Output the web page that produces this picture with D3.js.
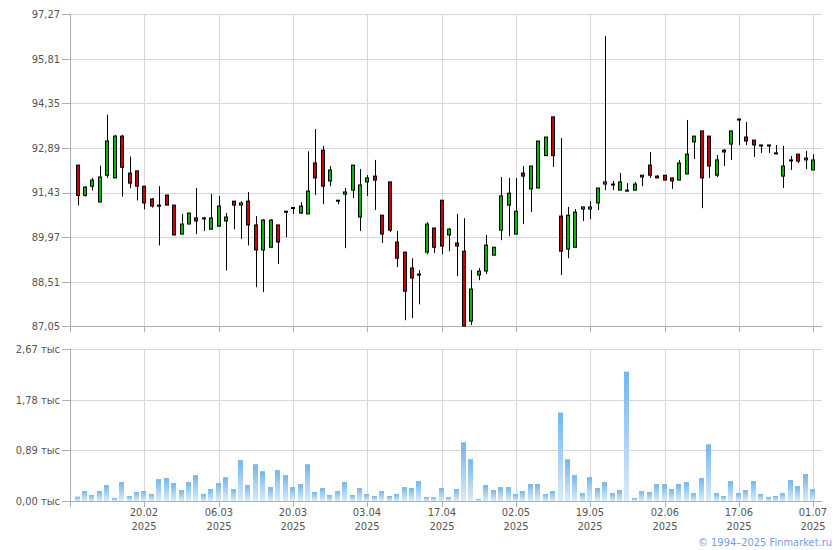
<!DOCTYPE html>
<html><head><meta charset="utf-8">
<script src="https://cdn.jsdelivr.net/npm/d3@7"></script>
<style>
body{margin:0;background:#fff}
svg{display:block}
text{font-family:"DejaVu Sans Condensed","Liberation Sans",Arial,sans-serif;font-size:11px}
</style>
</head><body>
<svg id="chart" width="840" height="550"></svg>
<script>
const dates=["07.02","10.02","11.02","12.02","13.02","14.02","17.02","18.02","19.02","20.02","21.02","24.02","25.02","26.02","27.02","28.02","03.03","04.03","05.03","06.03","07.03","10.03","11.03","12.03","13.03","14.03","17.03","18.03","19.03","20.03","21.03","24.03","25.03","26.03","27.03","28.03","31.03","01.04","02.04","03.04","04.04","07.04","08.04","09.04","10.04","11.04","14.04","15.04","16.04","17.04","18.04","21.04","22.04","23.04","24.04","25.04","28.04","29.04","30.04","02.05","05.05","06.05","07.05","08.05","12.05","13.05","14.05","15.05","16.05","19.05","20.05","21.05","22.05","23.05","26.05","27.05","28.05","29.05","30.05","02.06","03.06","04.06","05.06","06.06","09.06","10.06","11.06","13.06","16.06","17.06","18.06","19.06","20.06","23.06","24.06","25.06","26.06","27.06","30.06","01.07"];
const open =[92.33,91.34,91.64,91.12,92.00,91.91,93.28,92.07,92.14,91.64,91.22,91.02,91.35,91.02,90.07,90.40,90.60,90.59,90.23,90.33,90.50,91.15,91.02,91.15,90.37,89.55,89.64,90.37,90.82,90.94,90.76,90.73,92.40,92.82,91.81,91.18,91.38,91.51,90.63,91.78,91.97,90.69,91.78,89.81,89.48,88.96,88.76,89.48,90.27,91.18,90.04,89.78,89.51,87.22,88.73,88.86,89.38,90.20,91.02,90.07,92.07,91.55,91.58,92.64,93.91,90.66,89.58,89.64,90.89,90.89,91.09,91.71,91.71,91.51,91.51,91.51,91.94,92.33,91.97,92.00,91.91,91.84,92.04,93.09,93.45,93.28,92.00,92.82,93.02,93.84,93.25,93.15,92.99,92.99,92.73,91.97,92.50,92.69,92.50,92.17];
const high =[92.33,91.64,91.91,92.31,93.98,93.32,93.32,92.61,92.14,91.64,91.25,91.64,91.35,91.02,90.73,90.76,91.58,90.63,91.38,91.32,90.76,91.15,91.15,91.45,90.66,90.56,90.56,90.37,90.82,90.95,91.12,92.78,93.51,92.96,92.30,91.18,91.58,92.33,92.20,92.00,92.50,90.69,91.78,90.17,89.48,89.28,88.89,90.46,90.27,91.18,90.27,90.73,90.59,88.89,88.96,90.04,89.64,91.94,91.91,91.91,92.30,92.30,93.12,93.25,93.91,93.22,90.96,90.89,90.96,91.15,91.58,96.56,91.81,92.07,91.74,91.78,92.00,92.76,92.00,92.00,91.91,92.50,93.81,93.28,93.45,93.28,92.66,92.86,93.45,93.84,93.74,93.15,92.99,92.99,92.99,92.96,92.63,92.69,92.79,92.69];
const low  =[91.01,91.30,91.50,91.12,91.91,91.91,91.30,91.57,91.17,90.88,90.94,89.70,91.02,90.04,90.07,90.40,90.07,90.17,90.23,90.33,88.88,90.23,89.91,89.70,88.33,88.17,89.64,89.09,89.97,90.73,90.73,90.73,91.35,91.05,91.64,91.05,89.61,91.25,90.17,91.32,90.86,89.78,90.14,88.99,87.25,87.32,87.77,89.41,89.45,89.41,89.51,88.69,87.05,87.09,88.56,88.76,89.38,89.87,90.00,90.07,90.40,90.79,91.58,92.64,92.27,88.73,89.28,89.64,90.50,90.56,90.86,91.51,91.51,91.51,91.51,91.51,91.64,91.91,91.91,91.84,91.55,91.84,92.04,92.53,90.92,91.91,91.94,92.30,92.50,92.99,92.99,92.60,92.73,92.73,92.73,91.58,92.17,92.40,92.20,92.17];
const close=[91.34,91.61,91.84,91.94,93.12,93.28,92.26,91.74,91.64,91.09,90.99,91.02,91.02,90.04,90.40,90.76,90.50,90.60,90.60,90.99,90.63,91.02,91.09,90.37,89.55,90.53,90.53,89.81,90.81,90.94,90.99,91.48,91.91,91.64,92.17,91.18,91.45,92.33,91.68,91.91,91.84,90.07,90.20,89.28,88.20,88.63,88.76,90.40,89.64,89.68,90.23,89.68,87.06,88.27,88.86,89.71,89.64,91.32,91.41,90.82,91.97,92.30,93.12,93.25,92.64,89.51,90.69,90.79,90.96,90.96,91.58,91.78,91.71,91.78,91.51,91.71,92.00,92.00,91.91,91.84,91.81,92.40,92.69,93.28,91.91,92.30,92.50,92.76,93.45,93.84,93.12,92.99,92.99,92.99,92.73,92.30,92.50,92.46,92.56,92.50];
const volume=[76,175,105,175,280,53,333,88,158,175,123,385,403,315,193,333,455,123,210,315,420,210,718,280,648,525,245,543,455,245,298,648,158,228,105,175,333,105,228,123,88,175,88,123,245,228,350,70,70,228,70,210,1033,735,35,280,193,245,245,123,175,298,298,123,175,1558,735,455,140,420,228,333,140,193,2276,53,175,158,298,298,210,298,333,140,403,998,140,88,350,140,193,350,123,70,88,140,368,263,473,210];
const priceTicks=[87.05,88.51,89.97,91.43,92.89,94.35,95.81,97.27];
const volumeTicks=[0,890,1780,2670];
const dateTicks=["20.02","06.03","20.03","03.04","17.04","02.05","19.05","02.06","17.06","01.07"];
const tickYear="2025";
const copyright="\u00a9 1994\u20132025 Finmarket.ru";

const svg=d3.select("#chart");
const L=70, R=822;
const x=d3.scaleLinear().domain([0,dates.length-1]).range([77.6,813.2]);
const y=d3.scaleLinear().domain([87.05,97.27]).range([326.3,14.3]);
const yv=d3.scaleLinear().domain([0,2670]).range([501,349.3]);
const px=v=>Math.round(v)+0.5;
const fmt=v=>v.toFixed(2).replace(".",",");

const defs=svg.append("defs");
const g=defs.append("linearGradient").attr("id","vg").attr("x1",0).attr("y1",0).attr("x2",0).attr("y2",1);
g.append("stop").attr("offset","0%").attr("stop-color","#72b6ef");
g.append("stop").attr("offset","100%").attr("stop-color","#dcebf8");

const gridC="#d3d7dc", axisC="#aab0b8", textC="#555";

function panel(yScale,ticks,label,top,bottom){
  const grid=svg.append("g");
  // horizontal grid
  grid.selectAll(".h").data(ticks).join("line")
    .attr("x1",L).attr("x2",R)
    .attr("y1",d=>px(yScale(d))).attr("y2",d=>px(yScale(d)))
    .attr("stroke",d=>d===ticks[0]?axisC:gridC).attr("stroke-width",1);
  // tick marks left
  grid.selectAll(".t").data(ticks).join("line")
    .attr("x1",62).attr("x2",L)
    .attr("y1",d=>px(yScale(d))).attr("y2",d=>px(yScale(d)))
    .attr("stroke",axisC);
  // vertical grid
  grid.selectAll(".v").data(dateTicks).join("line")
    .attr("x1",d=>px(x(dates.indexOf(d)))).attr("x2",d=>px(x(dates.indexOf(d))))
    .attr("y1",top).attr("y2",bottom-0.5).attr("stroke",gridC);
  grid.selectAll(".vt").data(dateTicks).join("line")
    .attr("x1",d=>px(x(dates.indexOf(d)))).attr("x2",d=>px(x(dates.indexOf(d))))
    .attr("y1",bottom).attr("y2",bottom+6).attr("stroke",axisC);
  // left axis
  grid.append("line").attr("x1",L+0.5).attr("x2",L+0.5).attr("y1",top).attr("y2",bottom+6).attr("stroke",axisC);
  // labels
  grid.selectAll(".l").data(ticks).join("text")
    .attr("x",60).attr("y",d=>yScale(d)).attr("dy","0.35em")
    .attr("text-anchor","end").attr("fill",textC).text(label);
}
panel(y,priceTicks,fmt,14,326.3);
panel(yv,volumeTicks,d=>fmt(d/1000)+" \u0442\u044b\u0441",349,501);

// volume bars
svg.append("g").selectAll("rect").data(volume).join("rect")
  .attr("x",(d,i)=>Math.round(x(i))-3).attr("width",5)
  .attr("y",d=>yv(d)).attr("height",d=>yv(0)-yv(d))
  .attr("fill","url(#vg)");

// candles
const idx=d3.range(dates.length);
const cg=svg.append("g");
cg.selectAll(".w").data(idx).join("line")
  .attr("x1",i=>px(x(i))).attr("x2",i=>px(x(i)))
  .attr("y1",i=>y(high[i])).attr("y2",i=>y(low[i]))
  .attr("stroke","#000").attr("stroke-width",1);
cg.selectAll(".b").data(idx).join("rect")
  .attr("x",i=>Math.round(x(i))-1.5).attr("width",3)
  .attr("y",i=>y(Math.max(open[i],close[i])))
  .attr("height",i=>Math.max(1,y(Math.min(open[i],close[i]))-y(Math.max(open[i],close[i]))))
  .attr("fill",i=>close[i]>=open[i]?"#00bb00":"#cc0000")
  .attr("stroke","#000").attr("stroke-width",1);

// date labels
const xl=svg.append("g").attr("fill",textC).attr("text-anchor","middle");
dateTicks.forEach(d=>{
  const xx=Math.round(x(dates.indexOf(d)));
  xl.append("text").attr("x",xx).attr("y",516).text(d);
  xl.append("text").attr("x",xx).attr("y",530).text(tickYear);
});

svg.append("text").attr("x",832).attr("y",546).attr("text-anchor","end")
  .attr("fill","#7b9be6").text(copyright);
</script>
</body></html>
